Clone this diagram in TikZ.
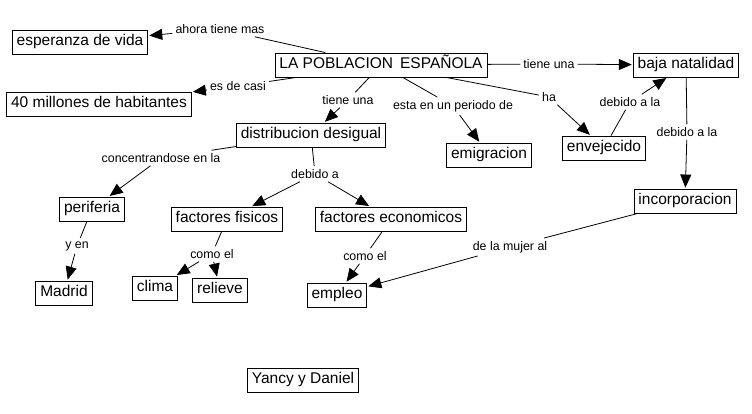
\documentclass[tikz,border=0pt]{standalone}
\usepackage{fontspec}
\setmainfont{Liberation Sans}
\usetikzlibrary{arrows.meta}
\begin{document}
\begin{tikzpicture}[x=1pt,y=-1pt,
 box/.style={draw,line width=0.9pt,font=\fontsize{15.5}{15.5}\selectfont,inner xsep=4.5pt,inner ysep=0pt,minimum height=24pt,text height=11pt,text depth=3.5pt},
 lab/.style={font=\fontsize{12.4}{12.4}\selectfont,inner sep=3pt},
 ln/.style={line width=0.8pt},
 arr/.style={ln,-{Triangle[length=13pt,width=11pt]},shorten >=1pt}]
\useasboundingbox[fill=white] (0,0) rectangle (752,413);
% concept boxes
\node[box] (esp) at (80,42) {esperanza de vida};
\node[box] (pob) at (381,65) {LA POBLACION\hspace{0.45em}ESPAÑOLA};
\node[box] (baja) at (686,65) {baja natalidad};
\node[box] (mil) at (99,104) {40 millones de habitantes};
\node[box] (dist) at (311,135) {distribucion desigual};
\node[box] (emi) at (489,155) {emigracion};
\node[box] (env) at (604,148) {envejecido};
\node[box] (inc) at (685,201) {incorporacion};
\node[box] (per) at (92,209) {periferia};
\node[box] (fis) at (227,219) {factores fisicos};
\node[box] (eco) at (391,219) {factores economicos};
\node[box] (mad) at (64,293) {Madrid};
\node[box] (cli) at (155,288) {clima};
\node[box] (rel) at (220,290) {relieve};
\node[box] (emp) at (337,295) {empleo};
\node[box] (yd) at (303,380) {Yancy y Daniel};
% link labels
\node[lab] (l1) at (220,29) {ahora tiene mas};
\node[lab] (l2) at (238,86) {es de casi};
\node[lab] (l3) at (348,100) {tiene una};
\node[lab] (l4) at (453,106) {esta en un periodo de};
\node[lab] (l5) at (549,97) {ha};
\node[lab] (l6) at (549,64) {tiene una};
\node[lab] (l7) at (630,102) {debido a la};
\node[lab] (l8) at (687,132) {debido a la};
\node[lab] (l9) at (161,158) {concentrandose en la};
\node[lab] (l10) at (315,174) {debido a};
\node[lab] (l11) at (77,246) {y en};
\node[lab] (l12) at (212,254) {como el};
\node[lab] (l13) at (365,256) {como el};
\node[lab] (l14) at (510,247) {de la mujer al};
% connectors
\draw[ln] (pob) -- (l1); \draw[arr] (l1) -- (esp);
\draw[ln] (pob) -- (l2); \draw[arr] (l2) -- (mil);
\draw[ln] (pob) -- (l3); \draw[arr] (l3) -- (dist);
\draw[ln] (pob) -- (l4); \draw[arr] (l4) -- (emi);
\draw[ln] (pob) -- (l5); \draw[arr] (l5) -- (env);
\draw[ln] (pob) -- (l6); \draw[arr] (l6) -- (baja);
\draw[ln] (env) -- (l7); \draw[arr] (l7) -- (baja);
\draw[ln] (baja) -- (l8); \draw[arr] (l8) -- (inc);
\draw[ln] (dist) -- (l9); \draw[arr] (l9) -- (per);
\draw[ln] (dist) -- (l10); \draw[arr] (l10) -- (fis); \draw[arr] (l10) -- (eco);
\draw[ln] (per) -- (l11); \draw[arr] (l11) -- (mad);
\draw[ln] (fis) -- (l12); \draw[arr] (l12) -- (cli); \draw[arr] (l12) -- (rel);
\draw[ln] (eco) -- (l13); \draw[arr] (l13) -- (emp);
\draw[ln] (inc) -- (l14); \draw[arr] (l14) -- (emp);
\end{tikzpicture}
\end{document}
